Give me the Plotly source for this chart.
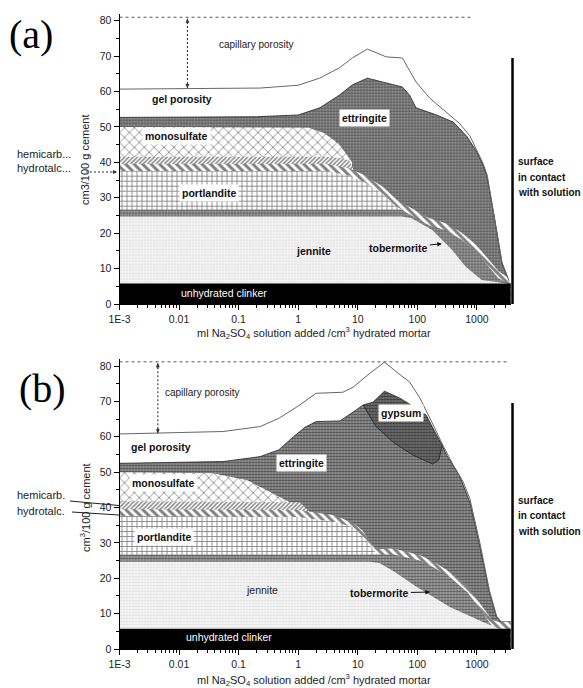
import numpy as np
import plotly.graph_objects as go

W, H = 583, 688
SANS = "Liberation Sans, Arial, sans-serif"
X_END = 3700

# ---------------- panel (a) : boundary curves (upper edge of each phase) ----------------
cap_a_x = [0.001, 830]
cap_a_y = [81, 81]
gel_a_x = [0.001, 0.23, 1, 2.3, 4.9, 8.1, 14.5, 20, 30, 56, 95, 160, 310, 510, 760, 1000, 1260, 1480, 1950, 2630, 3470]
gel_a_y = [60.7, 61, 61.8, 63.8, 66.7, 69.5, 72, 71, 69.8, 69.5, 62.7, 58.2, 54.2, 51, 47.5, 43.5, 39.8, 36.5, 25, 11.8, 6.5]
ettr_a_x = [0.001, 0.2, 1, 2.3, 4.9, 8.1, 14.5, 30, 56, 74, 95, 210, 400, 680, 1000, 1260, 1480, 1950, 2630, 3470, X_END]
ettr_a_y = [52.7, 52.9, 53.4, 55.4, 59, 61.9, 63.8, 62.4, 61.3, 59, 55.4, 53.4, 51.4, 47.3, 42.9, 39.3, 36, 24.7, 11.5, 6.3, 5.8]
mono_a_x = [0.001, 1.5, 2.7, 4.8, 7.2, 8.0]
mono_a_y = [50, 49.8, 48.3, 45.3, 41.2, 40.0]
hemi_a_x = [0.001, 3.0, 5.5, 7.2, 8.5]
hemi_a_y = [41.6, 41.6, 41.2, 40.4, 38.0]
band_a_x = [0.001, 3, 7.2, 12.6, 26, 45, 66, 160, 300, 540, 960, 1480, 2300, 3200, X_END]
band_top_a_y = [39.6, 39.6, 38.3, 36.5, 33.2, 29.5, 27.8, 24.2, 22.8, 20.3, 16.8, 13, 9.3, 7.6, 6.4]
band_bot_a_y = [37.6, 37.6, 36.3, 34.5, 31.2, 27.5, 25.8, 22.2, 20.8, 18.3, 14.8, 11, 7.3, 6.0, 5.8]
port_a_x = [0.001, 3, 7.2, 12.6, 26, 45, 55]
port_a_y = [37.6, 37.6, 36.3, 34.5, 31.2, 27.5, 26.7]
tob_a_x = [0.001, 55, 66, 160, 300, 540, 960, 1480, 2300, 3200]
tob_a_y = [26.7, 26.7, 25.8, 22.2, 20.8, 18.3, 14.8, 11, 7.3, 6.0]
jen_a_x = [0.001, 55, 80, 120, 178, 380, 650, 1200, 2300, 3200]
jen_a_y = [24.7, 24.7, 24.2, 22.5, 20.9, 15.3, 10.5, 6.8, 6.0, 5.8]
clk_a_x = [0.001, X_END]
clk_a_y = [5.8, 5.8]

# ---------------- panel (b) ----------------
cap_b_x = [0.001, 3300]
cap_b_y = [81.2, 81.2]
gel_b_x = [0.001, 0.055, 0.23, 0.47, 0.96, 2.0, 5.6, 8.3, 16, 28, 45, 74, 110, 141, 195, 270, 400, 590, 760, 1120, 1620, 2140, 2500]
gel_b_y = [60.8, 61.5, 62.9, 65.2, 68.5, 72.3, 72.6, 74, 78, 81.1, 78.3, 75.5, 71, 67.5, 62.5, 57.5, 52, 47.2, 42.5, 30, 16.5, 9.2, 7.9]
gyp_b_x = [12.3, 18, 28, 50, 70, 141, 210, 260]
gyp_b_y = [69, 69.8, 72.9, 71, 69.5, 66.1, 60.5, 57.6]
ettr_b_x = [0.001, 0.055, 0.23, 0.47, 0.83, 1.3, 2.0, 5.0, 7.9, 12.3, 20, 39, 85, 180, 230, 260, 310, 510, 760, 1120, 1620, 2140, 2500, X_END]
ettr_b_y = [52.5, 53, 54.4, 56.3, 60, 62.7, 64.3, 64.5, 66.7, 69, 63, 58.5, 54.8, 52.3, 53.5, 57.6, 54.8, 49, 41.5, 29, 16, 9, 7.7, 7.7]
mono_b_x = [0.001, 0.037, 0.14, 0.34, 0.72, 0.9]
mono_b_y = [50, 49.7, 47.7, 44.4, 41.5, 41.2]
hemi_b_x = [0.001, 1.07, 1.5]
hemi_b_y = [41.8, 41.5, 39.0]
band_b_x = [0.001, 1.0, 4.0, 8.4, 12, 16, 21, 40, 110, 200, 400, 700, 1200, 1800, 2300, X_END]
band_top_b_y = [39.5, 39.3, 37.8, 35.6, 33.5, 30.5, 28.2, 28.4, 26.6, 24.4, 21.2, 17.6, 12.2, 8.2, 7.7, 7.7]
band_bot_b_y = [37.6, 37.3, 36, 34.4, 32.2, 29.3, 26.7, 26.7, 25, 22.8, 19.5, 16, 10.5, 6.5, 6.0, 6.0]
port_b_x = [0.001, 1.0, 4.0, 8.4, 14, 21]
port_b_y = [37.6, 37.3, 36, 34.4, 30.8, 26.7]
tob_b_x = [0.001, 21, 40, 110, 200, 400, 700, 1200, 1800, 2300]
tob_b_y = [26.7, 26.7, 26.7, 25, 22.8, 19.5, 16, 10.5, 6.5, 6.0]
jen_b_x = [0.001, 16, 23, 40, 98, 350, 1260, 2100, 2400]
jen_b_y = [24.7, 24.7, 24.3, 22, 17.5, 11.9, 7.6, 6.2, 5.75]
clk_b_x = [0.001, X_END]
clk_b_y = [5.75, 5.75]

# capillary-porosity arrows (x position, bottom, top)
arrow_a = (0.0138, 61, 80.6)
arrow_b = (0.0044, 61, 80.8)

x_tick_vals = [0.001, 0.01, 0.1, 1, 10, 100, 1000]
x_tick_text = ["1E-3", "0.01", "0.1", "1", "10", "100", "1000"]
y_tick_vals = [0, 10, 20, 30, 40, 50, 60, 70, 80]

# ---------------- styles ----------------
def pat(shape, fg, bg, size, sol):
    return dict(shape=shape, fgcolor=fg, bgcolor=bg, size=size, solidity=sol)

STY = {
    "gypsum": dict(fillcolor="#7c7c7c", fillpattern=pat(".", "#000", "#7c7c7c", 3, 0.55)),
    "ettringite": dict(fillcolor="#a4a4a4", fillpattern=pat(".", "#000", "#a4a4a4", 3, 0.55)),
    "monosulfate": dict(fillcolor="white", fillpattern=pat("x", "#000", "white", 7, 0.22)),
    "hemicarb": dict(fillcolor="white", fillpattern=pat("/", "#111", "white", 3, 0.5)),
    "hydrotalc": dict(fillcolor="white", fillpattern=pat("\\", "#000", "white", 6, 0.5)),
    "portlandite": dict(fillcolor="white", fillpattern=pat("+", "#111", "white", 5, 0.33)),
    "tobermorite": dict(fillcolor="#b0b0b0", fillpattern=pat(".", "#000", "#b0b0b0", 3, 0.5)),
    "jennite": dict(fillcolor="#f3f3f3", fillpattern=pat(".", "#c4c4c4", "#f6f6f6", 3, 0.35)),
    "clinker": dict(fillcolor="black"),
}

fig = go.Figure()

def area(x, y, key, ax, lw=0.0, lc="#222"):
    xa, ya = ("x", "y") if ax == "a" else ("x2", "y2")
    fig.add_trace(go.Scatter(x=x, y=y, mode="lines", fill="tozeroy",
                             line=dict(color=lc, width=lw), xaxis=xa, yaxis=ya,
                             hoverinfo="skip", showlegend=False, **STY[key]))

def line(x, y, ax, color, width, dash="solid"):
    xa, ya = ("x", "y") if ax == "a" else ("x2", "y2")
    fig.add_trace(go.Scatter(x=x, y=y, mode="lines", line=dict(color=color, width=width, dash=dash),
                             xaxis=xa, yaxis=ya, hoverinfo="skip", showlegend=False))

# panel (a) painter order: top to bottom
area(ettr_a_x, ettr_a_y, "ettringite", "a", 0.8)
area(mono_a_x, mono_a_y, "monosulfate", "a")
area(hemi_a_x, hemi_a_y, "hemicarb", "a")
area(band_a_x, band_top_a_y, "hydrotalc", "a")
area(port_a_x, port_a_y, "portlandite", "a")
area(tob_a_x, tob_a_y, "tobermorite", "a")
area(jen_a_x, jen_a_y, "jennite", "a")
area(clk_a_x, clk_a_y, "clinker", "a")
line(gel_a_x, gel_a_y, "a", "#666", 1)
line(cap_a_x, cap_a_y, "a", "#555", 1, "dot")
line([arrow_a[0], arrow_a[0]], [arrow_a[1], arrow_a[2]], "a", "#222", 1, "2px,2px")

# panel (b)
area(gyp_b_x, gyp_b_y, "gypsum", "b", 0.8)
area(ettr_b_x, ettr_b_y, "ettringite", "b", 0.8)
area(mono_b_x, mono_b_y, "monosulfate", "b")
area(hemi_b_x, hemi_b_y, "hemicarb", "b")
area(band_b_x, band_top_b_y, "hydrotalc", "b")
area(port_b_x, port_b_y, "portlandite", "b")
area(tob_b_x, tob_b_y, "tobermorite", "b")
area(jen_b_x, jen_b_y, "jennite", "b")
area(clk_b_x, clk_b_y, "clinker", "b")
line(gel_b_x, gel_b_y, "b", "#666", 1)
line(cap_b_x, cap_b_y, "b", "#555", 1, "dot")
line([arrow_b[0], arrow_b[0]], [arrow_b[1], arrow_b[2]], "b", "#222", 1, "2px,2px")

# ---------------- axes ----------------
def px(v):
    return v / W

def py(v):
    return 1 - v / H

XL, XR = px(119.5), px(510.8)
minor_vals = [m * 10.0 ** e for e in range(-3, 4) for m in range(2, 10) if m * 10.0 ** e < X_END]

def xaxis(dom_anchor):
    return dict(type="log", domain=[XL, XR], range=[-3, np.log10(X_END)], anchor=dom_anchor,
                tickmode="array", tickvals=x_tick_vals, ticktext=x_tick_text,
                ticks="outside", ticklen=5, tickcolor="black", showline=True, linecolor="black",
                linewidth=1, showgrid=False, zeroline=False, automargin=False,
                tickfont=dict(family=SANS, size=10.5, color="#222"),
                minor=dict(tickmode="array", tickvals=minor_vals, ticks="outside", ticklen=3,
                           tickcolor="black", showgrid=False))

def yaxis(dom, anchor):
    return dict(domain=dom, range=[0, 82], anchor=anchor, tickmode="array", tickvals=y_tick_vals,
                ticks="outside", ticklen=5, tickcolor="black", showline=True, linecolor="black",
                linewidth=1, showgrid=False, zeroline=False, automargin=False,
                tickfont=dict(family=SANS, size=10.5, color="#222"),
                minor=dict(dtick=5, tick0=0, ticks="outside", ticklen=3, tickcolor="black", showgrid=False))

fig.update_layout(
    width=W, height=H, margin=dict(l=0, r=0, t=0, b=0),
    paper_bgcolor="white", plot_bgcolor="rgba(0,0,0,0)",
    xaxis=xaxis("y"), yaxis=yaxis([py(304), py(13.7)], "x"),
    xaxis2=xaxis("y2"), yaxis2=yaxis([py(649), py(359)], "x2"),
    font=dict(family=SANS, color="#111"),
)

ann = []

def txt(s, lx, y, panel, size=10.5, color="#111", box=False):
    xr, yr = ("x", "y") if panel == "a" else ("x2", "y2")
    d = dict(text=s, x=lx, y=y, xref=xr, yref=yr, showarrow=False, xanchor="center", yanchor="middle",
             font=dict(family=SANS, size=size, color=color))
    if box:
        d.update(bgcolor="white", borderpad=2)
    ann.append(d)

def ptxt(s, x, y, size=11, color="#222", xanchor="center", angle=0, family=SANS):
    ann.append(dict(text=s, x=px(x), y=py(y), xref="paper", yref="paper", showarrow=False,
                    xanchor=xanchor, yanchor="middle", textangle=angle,
                    font=dict(family=family, size=size, color=color)))

# labels panel (a)  (x given as log10 positions)
txt("capillary porosity", -0.71, 73.2, "a", 10, "#222")
txt("<b>gel porosity</b>", -1.95, 57.9, "a")
txt("<b>ettringite</b>", 1.11, 52.5, "a", box=True)
txt("<b>monosulfate</b>", -2.05, 47.5, "a", box=True)
txt("<b>portlandite</b>", -1.5, 31.4, "a", box=True)
txt("<b>jennite</b>", 0.26, 15.1, "a")
txt("unhydrated clinker", -1.24, 3.2, "a", 10.5, "white")
# labels panel (b)
txt("capillary porosity", -1.62, 72.5, "b", 10, "#222")
txt("<b>gel porosity</b>", -2.31, 57.2, "b")
txt("<b>ettringite</b>", 0.06, 52.7, "b", box=True)
txt("<b>monosulfate</b>", -2.26, 47.0, "b", box=True)
txt("<b>portlandite</b>", -2.26, 31.7, "b", box=True)
txt("jennite", -0.61, 16.7, "b", 10.5, "#222")
txt("<b>gypsum</b>", 1.73, 66.8, "b", box=True)
txt("unhydrated clinker", -1.17, 3.5, "b", 10.5, "white")

# tobermorite arrows
ann.append(dict(text="<b>tobermorite</b>", x=2.41, y=17.0, xref="x", yref="y", ax=-43, ay=4,
                showarrow=True, arrowhead=2, arrowsize=0.9, arrowwidth=1, arrowcolor="#111",
                font=dict(family=SANS, size=10.5, color="#111")))
ann.append(dict(text="<b>tobermorite</b>", x=2.21, y=16.1, xref="x2", yref="y2", ax=-50, ay=1,
                showarrow=True, arrowhead=2, arrowsize=0.9, arrowwidth=1, arrowcolor="#111",
                font=dict(family=SANS, size=10.5, color="#111")))

# capillary porosity double arrow heads
for xr, yr, (ax_, y0, y1) in [("x", "y", arrow_a), ("x2", "y2", arrow_b)]:
    lx = float(np.log10(ax_))
    ann.append(dict(text="", x=lx, y=y1, xref=xr, yref=yr, ax=0, ay=7, showarrow=True,
                    arrowhead=2, arrowsize=0.8, arrowwidth=1, arrowcolor="#333"))
    ann.append(dict(text="", x=lx, y=y0, xref=xr, yref=yr, ax=0, ay=-7, showarrow=True,
                    arrowhead=2, arrowsize=0.8, arrowwidth=1, arrowcolor="#333"))

# panel letters
SERIF = "Liberation Serif, Times New Roman, serif"
ptxt("(a)", 31, 35, 40, "black", family=SERIF)
ptxt("(b)", 42, 388, 40, "black", family=SERIF)

# axis titles
for yy in (333, 680):
    ptxt("ml Na<sub>2</sub>SO<sub>4</sub> solution added /cm<sup>3</sup> hydrated mortar", 314, yy, 11)
ptxt("cm3/100 g cement", 85, 160, 11, angle=-90)
ptxt("cm<sup>3</sup>/100 g cement", 85, 508, 11, angle=-90)

# hemicarb / hydrotalc labels
for s, yy in [("hemicarb...", 154), ("hydrotalc...", 168), ("hemicarb.", 495), ("hydrotalc.", 511)]:
    ptxt(s, 15, yy, 11, xanchor="left")
ann.append(dict(text="", x=px(117), y=py(172), xref="paper", yref="paper", ax=-6, ay=0,
                showarrow=True, arrowhead=2, arrowsize=0.8, arrowwidth=1, arrowcolor="#333"))

# surface in contact with solution
for base in (162, 500):
    for i, s in enumerate(["surface", "in contact", "with solution"]):
        ptxt("<b>" + s + "</b>", 516, base + 15.5 * i, 10, "#111", xanchor="left")

shapes = [
    dict(type="line", xref="paper", yref="paper", x0=px(512.5), x1=px(512.5), y0=py(58), y1=py(304),
         line=dict(color="black", width=2.5)),
    dict(type="line", xref="paper", yref="paper", x0=px(512.5), x1=px(512.5), y0=py(403), y1=py(649),
         line=dict(color="black", width=2.5)),
    # leaders
    dict(type="line", xref="paper", yref="paper", x0=px(84), x1=px(92), y0=py(155), y1=py(155),
         line=dict(color="#333", width=1, dash="2px,2px")),
    dict(type="line", xref="paper", yref="paper", x0=px(86), x1=px(116), y0=py(172), y1=py(172),
         line=dict(color="#333", width=1, dash="2px,2px")),
    dict(type="line", xref="paper", yref="paper", x0=px(70), x1=px(119), y0=py(501), y1=py(505.5),
         line=dict(color="#222", width=1)),
    dict(type="line", xref="paper", yref="paper", x0=px(72), x1=px(119), y0=py(512), y1=py(515),
         line=dict(color="#222", width=1)),
]

fig.update_layout(annotations=ann, shapes=shapes)
fig.write_html("out.html")
